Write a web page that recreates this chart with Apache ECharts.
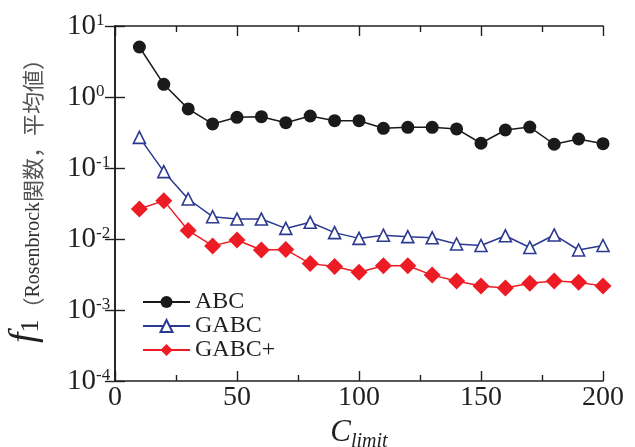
<!DOCTYPE html>
<html>
<head>
<meta charset="utf-8">
<script src="https://cdn.jsdelivr.net/npm/echarts@6/dist/echarts.min.js"></script>
<style>
  html, body { margin: 0; padding: 0; background: #fff; }
  #chart { width: 635px; height: 447px; }
</style>
</head>
<body>
<div id="chart"></div>
<script>
// C_limit values
const climit = [10, 20, 30, 40, 50, 60, 70, 80, 90, 100, 110, 120, 130, 140, 150, 160, 170, 180, 190, 200];

// f1 mean values
const abc = [5.06, 1.51, 0.68, 0.417, 0.518, 0.528, 0.435, 0.54, 0.464, 0.464,
    0.362, 0.374, 0.374, 0.355, 0.223, 0.343, 0.377, 0.216, 0.256, 0.22];
const gabc = [0.27, 0.0888, 0.0366, 0.0206, 0.0191, 0.0191, 0.0141, 0.0172, 0.0123, 0.0102,
    0.0113, 0.0108, 0.0104, 0.0085, 0.0081, 0.0111, 0.0076, 0.0114, 0.0070, 0.0081];
const gabcPlus = [0.0265, 0.0347, 0.0132, 0.008, 0.0097, 0.007, 0.0071, 0.0045, 0.0041, 0.0034,
    0.0042, 0.0042, 0.0031, 0.00256, 0.00218, 0.00204, 0.00238, 0.00256, 0.00245, 0.00218];

const xTicks = [0, 50, 100, 150, 200];
const seriesNames = ['ABC', 'GABC', 'GABC+'];

const serif = '"Liberation Serif", "Times New Roman", serif';
const ink = '#231f20';

function pairs(ys) {
    return climit.map((x, i) => [x, ys[i]]);
}

const chart = echarts.init(document.getElementById('chart'));

const axisLine = { show: true, lineStyle: { color: ink, width: 1.6 } };
const tick = { inside: true, length: 10, lineStyle: { color: ink, width: 1.4 } };

const option = {
    animation: false,
    grid: { left: 115, right: 32, top: 26, bottom: 66, containLabel: false, outerBoundsMode: 'none' },
    legend: {
        data: seriesNames,
        orient: 'vertical',
        left: 142,
        top: 290,
        padding: 0,
        itemWidth: 47,
        itemHeight: 15,
        itemGap: 0,
        textStyle: { fontFamily: serif, fontSize: 24, color: ink, lineHeight: 22 }
    },
    xAxis: [{
        type: 'value',
        min: 0,
        max: 200,
        interval: 50,
        axisLine: axisLine,
        axisTick: tick,
        minorTick: { show: true, splitNumber: 2, length: 6, lineStyle: { color: ink, width: 1.4 } },
        splitLine: { show: false },
        axisLabel: {
            margin: 3,
            fontFamily: serif,
            fontSize: 28,
            color: ink,
            formatter: v => xTicks.includes(v) ? String(v) : ''
        },
        name: '{c|C}{s|limit}',
        nameLocation: 'middle',
        nameGap: 31,
        nameTextStyle: {
            rich: {
                c: { fontFamily: serif, fontStyle: 'italic', fontSize: 31, color: ink, verticalAlign: 'bottom' },
                s: { fontFamily: serif, fontStyle: 'italic', fontSize: 20, color: ink, verticalAlign: 'bottom', padding: [0, 0, -4, 0] }
            }
        }
    }, {
        type: 'value',
        position: 'top',
        min: 0,
        max: 200,
        interval: 50,
        axisLine: axisLine,
        axisTick: tick,
        minorTick: { show: true, splitNumber: 2, length: 6, lineStyle: { color: ink, width: 1.4 } },
        splitLine: { show: false },
        axisLabel: { show: false }
    }],
    yAxis: [{
        type: 'log',
        logBase: 10,
        min: 1e-4,
        max: 10,
        axisLine: axisLine,
        axisTick: tick,
        splitLine: { show: false },
        axisLabel: {
            margin: 48,
            align: 'left',
            formatter: v => '{b|10}{e|' + Math.round(Math.log10(v)) + '}',
            rich: {
                b: { fontFamily: serif, fontSize: 29, color: ink, lineHeight: 28 },
                e: { fontFamily: serif, fontSize: 17, color: ink, lineHeight: 17, verticalAlign: 'top' }
            }
        },
        name: '{f|f}{n|1}{j|（}{t|Rosenbrock}{j|関数，平均値）}',
        nameLocation: 'middle',
        nameRotate: 90,
        nameGap: 71,
        nameTextStyle: {
            padding: [0, 0, 0, 16],
            rich: {
                f: { fontFamily: serif, fontStyle: 'italic', fontSize: 38, color: ink, verticalAlign: 'bottom' },
                n: { fontFamily: serif, fontSize: 26, color: ink, verticalAlign: 'bottom' },
                t: { fontFamily: serif, fontSize: 20, color: '#333', verticalAlign: 'bottom' },
                j: { fontFamily: '"Noto Sans CJK JP"', fontSize: 22, color: '#555', verticalAlign: 'bottom' }
            }
        }
    }, {
        type: 'log',
        logBase: 10,
        position: 'right',
        min: 1e-4,
        max: 10,
        axisLine: axisLine,
        axisTick: tick,
        splitLine: { show: false },
        axisLabel: { show: false }
    }],
    series: [{
        name: 'ABC',
        type: 'line',
        data: pairs(abc),
        symbol: 'circle',
        symbolSize: 13,
        lineStyle: { color: '#1a1a1a', width: 1.5 },
        itemStyle: { color: '#1a1a1a' }
    }, {
        name: 'GABC',
        type: 'line',
        data: pairs(gabc),
        symbol: 'triangle',
        symbolSize: 12,
        lineStyle: { color: '#2b3990', width: 1.5 },
        itemStyle: { color: '#fff', borderColor: '#2b3990', borderWidth: 1.6 }
    }, {
        name: 'GABC+',
        type: 'line',
        data: pairs(gabcPlus),
        symbol: 'diamond',
        symbolSize: 17,
        lineStyle: { color: '#ed1c24', width: 1.5 },
        itemStyle: { color: '#ed1c24' }
    }]
};

chart.setOption(option);
</script>
</body>
</html>
